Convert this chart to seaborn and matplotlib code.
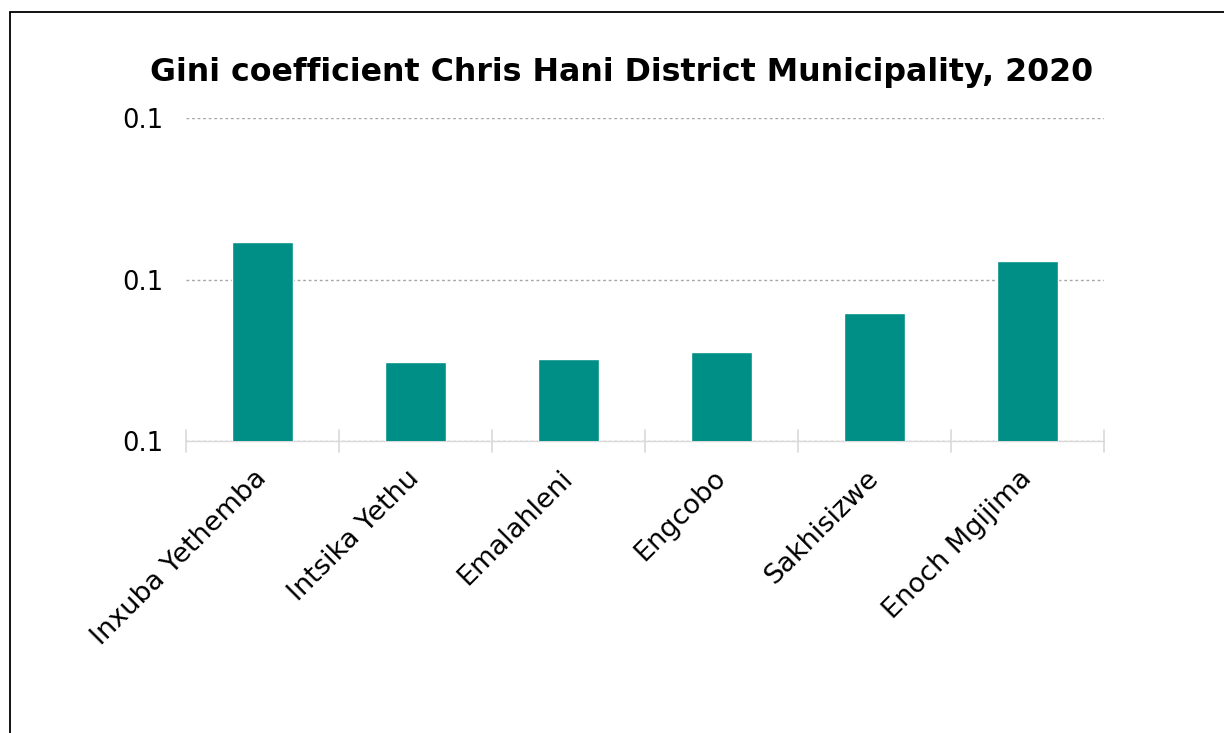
import matplotlib
matplotlib.use("Agg")
import matplotlib.pyplot as plt
import seaborn as sns
import pandas as pd
from matplotlib.ticker import FormatStrFormatter, FixedLocator
from matplotlib.patches import Rectangle

municipalities = ["Inxuba Yethemba", "Intsika Yethu", "Emalahleni",
                  "Engcobo", "Sakhisizwe", "Enoch Mgijima"]
gini = [0.1246, 0.1098, 0.1102, 0.1110, 0.1159, 0.1223]
y_ticks = [0.10, 0.12, 0.14]

df = pd.DataFrame({"municipality": municipalities, "gini": gini})

sns.set_theme(style="white")
plt.rcParams["font.family"] = ["DejaVu Sans"]
plt.rcParams["text.color"] = "black"
plt.rcParams["xtick.color"] = "black"
plt.rcParams["ytick.color"] = "black"

fig = plt.figure(figsize=(12.24, 7.33), dpi=100)
ax = fig.add_axes([186 / 1224, 1 - 441 / 733, (1104 - 186) / 1224, (441 - 118) / 733])

sns.barplot(data=df, x="municipality", y="gini", color="#008F86",
            width=0.405, saturation=1, ax=ax, zorder=3)

ax.set_ylim(0.10, 0.14)
ax.set_xlim(-0.5, len(municipalities) - 0.5)
ax.yaxis.set_major_locator(FixedLocator(y_ticks))
ax.yaxis.set_major_formatter(FormatStrFormatter("%.1f"))
ax.grid(axis="y", color="#A6A6A6", linestyle=(0, (2, 2)), linewidth=1.0, zorder=0)
ax.grid(axis="x", visible=False)

for side in ["top", "right", "left"]:
    ax.spines[side].set_visible(False)
ax.spines["bottom"].set_color("#D9D9D9")
ax.spines["bottom"].set_linewidth(1.0)

# rotated category labels
ax.set_xticks(range(len(municipalities)))
ax.set_xticklabels(municipalities, rotation=45, ha="right", va="center",
                   rotation_mode="anchor", fontsize=19.5, color="black")
ax.tick_params(axis="x", length=0, pad=24)

# category separator ticks on the x axis
for b in [i - 0.5 for i in range(len(municipalities) + 1)]:
    ax.plot([b, b], [-0.035, 0.035], transform=ax.get_xaxis_transform(),
            color="#D9D9D9", linewidth=1.2, clip_on=False, zorder=2)

ax.tick_params(axis="y", length=0, labelsize=18.5, pad=16, labelcolor="black")
ax.set_xlabel("")
ax.set_ylabel("")

fig.text(622 / 1224, 1 - 72 / 733, "Gini coefficient Chris Hani District Municipality, 2020",
         ha="center", va="center", fontsize=22.8, fontweight="bold", color="black")

# outer frame
fig.patches.append(Rectangle((10 / 1224, -0.05), 1.05, 1 - 12 / 733 + 0.05,
                             transform=fig.transFigure, fill=False,
                             edgecolor="black", linewidth=1.3))

fig.savefig("out.png", dpi=100, facecolor="white")
